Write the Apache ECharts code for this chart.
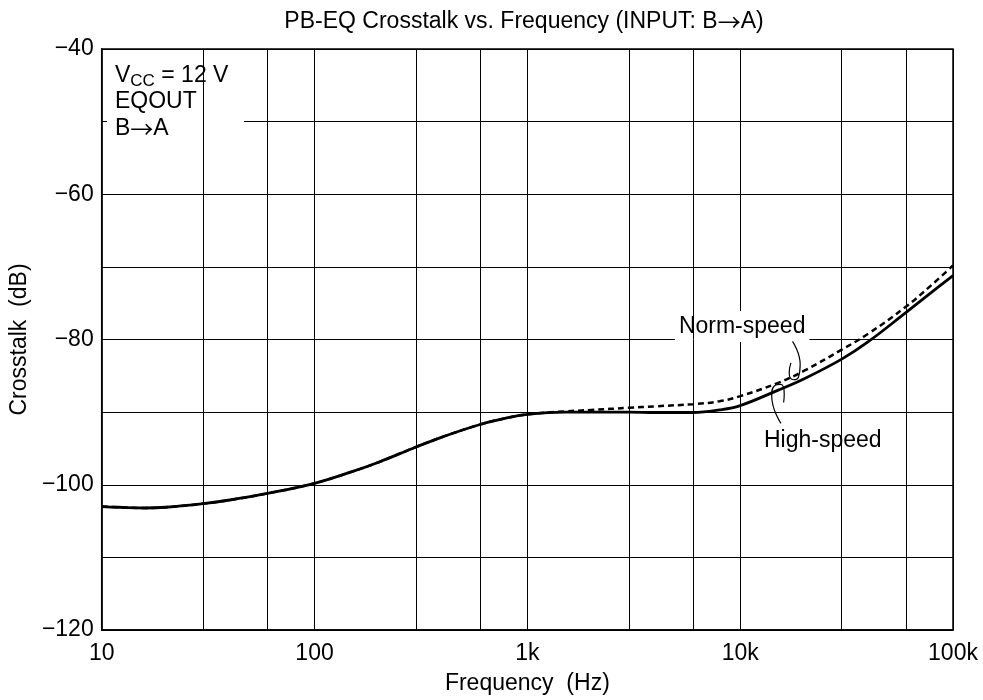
<!DOCTYPE html>
<html>
<head>
<meta charset="utf-8">
<script src="https://cdn.jsdelivr.net/npm/echarts@6/dist/echarts.min.js"></script>
<style>html,body{margin:0;padding:0;background:#fff}#c{width:983px;height:700px}</style>
</head>
<body>
<div id="c"></div>
<script>
// ---- data ----
const freqs = [10, 12, 16, 20, 30, 40, 60, 100, 150, 200, 300, 400, 600, 800, 1000, 1500, 2000, 3000, 4000, 6000, 8000, 10000, 15000, 20000, 30000, 40000, 60000, 80000, 100000];
const highSpeed = [-103.0, -103.1, -103.2, -103.1, -102.6, -102.1, -101.2, -99.8, -98.2, -96.9, -94.8, -93.4, -91.7, -90.8, -90.3, -90.0, -90.0, -90.0, -90.05, -90.05, -89.7, -89.1, -87.0, -85.4, -82.7, -80.3, -76.3, -73.4, -71.2];
const normSpeed = [-103.0, -103.1, -103.2, -103.1, -102.6, -102.1, -101.2, -99.8, -98.2, -96.9, -94.8, -93.4, -91.7, -90.8, -90.3, -89.9, -89.7, -89.4, -89.2, -88.9, -88.5, -87.8, -86.0, -84.3, -81.4, -79.2, -75.5, -72.4, -69.8];
const xTickValues = [10, 100, 1000, 10000, 100000];
const xTickLabels = ['10', '100', '1k', '10k', '100k'];
const extraGridFreqs = [30, 60, 300, 600, 3000, 6000, 30000, 60000];
const yTickLabels = [-120, -100, -80, -60, -40];
// leader curves (data coordinates: [Hz, dB])
const normLeader = [[17620, -80.25], [19140, -83.45], [18730, -85.27], [17820, -85.54], [16995, -84.58], [17310, -83.21]];
const highLeader = [[15545, -91.56], [14065, -87.73], [14465, -86.40], [15545, -86.18], [16106, -87.55], [16002, -88.68]];
// annotation anchors (data coordinates)
const normLabelAt = [10216, -78.2];
const highLabelAt = [24430, -93.9];

const FONT = 'Liberation Sans, Arial, Helvetica, sans-serif';
const ARROWFONT = 'Noto Sans CJK JP, DejaVu Sans, sans-serif';
const FS = 23;

const chart = echarts.init(document.getElementById('c'), null, {renderer: 'canvas'});
const pair = (xs, ys) => xs.map((x, i) => [x, ys[i]]);

const option = {
  animation: false,
  backgroundColor: '#fff',
  textStyle: {fontFamily: FONT},
  grid: {left: 96, right: 30, top: 49, bottom: 66, show: true, borderColor: '#000', borderWidth: 1.5, containLabel: false},
  xAxis: {
    type: 'log', logBase: 10, min: 10, max: 100000,
    name: 'Frequency  (Hz)', nameLocation: 'middle', nameGap: 42,
    nameTextStyle: {color: '#000', fontSize: FS, fontFamily: FONT},
    axisLine: {show: true, lineStyle: {color: '#000', width: 1.5}},
    axisTick: {show: false},
    axisLabel: {color: '#000', fontSize: FS, fontFamily: FONT, margin: 12,
      formatter: v => { const i = xTickValues.findIndex(t => Math.abs(t - v) / t < 1e-6); return i >= 0 ? xTickLabels[i] : ''; }},
    splitLine: {show: true, lineStyle: {color: '#000', width: 1}}
  },
  yAxis: {
    type: 'value', min: -120, max: -40, interval: 10,
    name: 'Crosstalk  (dB)', nameLocation: 'middle', nameGap: 65, nameRotate: 90,
    nameTextStyle: {color: '#000', fontSize: FS, fontFamily: FONT},
    axisLine: {show: true, lineStyle: {color: '#000', width: 1.5}},
    axisTick: {show: false},
    axisLabel: {color: '#000', fontSize: FS, fontFamily: FONT, margin: 8,
      formatter: v => yTickLabels.indexOf(v) >= 0 ? '\u2212' + Math.abs(v) : ''},
    splitLine: {show: true, lineStyle: {color: '#000', width: 1}}
  },
  series: [
    {
      type: 'line', data: [], z: 1, silent: true,
      markLine: {silent: true, symbol: ['none', 'none'], label: {show: false}, animation: false,
        lineStyle: {color: '#000', width: 1, type: 'solid'},
        data: extraGridFreqs.map(f => ({xAxis: f}))}
    },
    {
      name: 'Norm-speed', type: 'line', data: pair(freqs, normSpeed), smooth: 0.4, showSymbol: false, z: 3,
      lineStyle: {color: '#000', width: 2.5, type: [6, 4]}
    },
    {
      name: 'High-speed', type: 'line', data: pair(freqs, highSpeed), smooth: 0.4, showSymbol: false, z: 4,
      lineStyle: {color: '#000', width: 2.8}
    },
    {
      type: 'line', data: normLeader, smooth: 0.5, showSymbol: false, silent: true, z: 5,
      lineStyle: {color: '#000', width: 1.2}
    },
    {
      type: 'line', data: highLeader, smooth: 0.5, showSymbol: false, silent: true, z: 5,
      lineStyle: {color: '#000', width: 1.2}
    }
  ]
};
chart.setOption(option);

const np = chart.convertToPixel({gridIndex: 0}, normLabelAt);
const hp = chart.convertToPixel({gridIndex: 0}, highLabelAt);
const labelStyle = (txt) => ({text: txt, fill: '#000', font: FS + 'px ' + FONT, align: 'center', verticalAlign: 'middle',
  backgroundColor: '#fff', padding: [4, 4, 4, 4]});
const arrowRich = {
  a: {fontSize: FS, fontFamily: FONT, fill: '#000', lineHeight: 28, verticalAlign: 'middle'},
  r: {fontSize: FS, fontFamily: ARROWFONT, fill: '#000', lineHeight: 28, verticalAlign: 'middle'},
  s: {fontSize: 17, fontFamily: FONT, fill: '#000', lineHeight: 28, padding: [10, 0, 0, 0], verticalAlign: 'middle'}
};

chart.setOption({
  graphic: [
    {type: 'text', x: 524, y: 22, z: 10, style: {text: '{a|PB-EQ Crosstalk vs. Frequency (INPUT: B}{r|\u2192}{a|A)}', align: 'center', verticalAlign: 'middle', rich: arrowRich}},
    {type: 'rect', x: 107, y: 62, z: 1, shape: {width: 137, height: 81}, style: {fill: '#fff'}},
    {type: 'text', x: 115, y: 76, z: 2, style: {text: '{a|V}{s|CC}{a| = 12 V}', verticalAlign: 'middle', rich: arrowRich}},
    {type: 'text', x: 115, y: 102, z: 2, style: {text: 'EQOUT', fill: '#000', font: FS + 'px ' + FONT, verticalAlign: 'middle'}},
    {type: 'text', x: 115, y: 129, z: 2, style: {text: '{a|B}{r|\u2192}{a|A}', verticalAlign: 'middle', rich: arrowRich}},
    {type: 'text', x: np[0], y: np[1], z: 1, style: labelStyle('Norm-speed')},
    {type: 'text', x: hp[0], y: hp[1], z: 1, style: labelStyle('High-speed')}
  ]
});
</script>
</body>
</html>
